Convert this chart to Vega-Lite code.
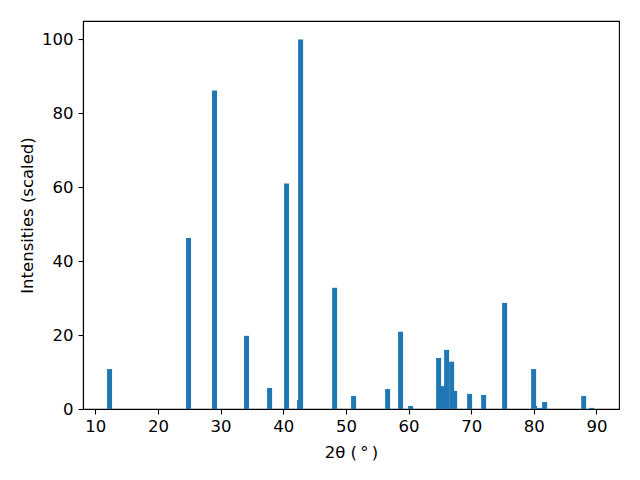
{
  "$schema": "https://vega.github.io/schema/vega-lite/v6.json",
  "width": 536,
  "height": 388,
  "autosize": {"type": "none"},
  "padding": {"left": 83, "top": 21, "right": 21, "bottom": 71},
  "background": "white",
  "config": {
    "view": {"stroke": "black", "strokeWidth": 1.1},
    "font": "DejaVu Sans",
    "axis": {
      "grid": false,
      "domainColor": "black",
      "domainWidth": 1.1,
      "tickColor": "black",
      "tickWidth": 1.1,
      "tickSize": 5,
      "labelFont": "DejaVu Sans",
      "labelFontSize": 16.5,
      "labelColor": "black",
      "titleFont": "DejaVu Sans",
      "titleFontSize": 16.5,
      "titleFontWeight": "normal",
      "titleColor": "black"
    }
  },
  "data": {
    "values": [
      {"two_theta": 12.27, "intensity": 10.8},
      {"two_theta": 24.88, "intensity": 46.3},
      {"two_theta": 29.03, "intensity": 86.2},
      {"two_theta": 34.14, "intensity": 19.8},
      {"two_theta": 37.82, "intensity": 5.7},
      {"two_theta": 40.53, "intensity": 61.0},
      {"two_theta": 42.61, "intensity": 2.4},
      {"two_theta": 42.77, "intensity": 100.0},
      {"two_theta": 48.2, "intensity": 32.8},
      {"two_theta": 51.23, "intensity": 3.5},
      {"two_theta": 56.66, "intensity": 5.4},
      {"two_theta": 58.73, "intensity": 20.9},
      {"two_theta": 60.33, "intensity": 0.8},
      {"two_theta": 64.8, "intensity": 13.8},
      {"two_theta": 65.55, "intensity": 6.2},
      {"two_theta": 66.08, "intensity": 16.0},
      {"two_theta": 66.88, "intensity": 12.8},
      {"two_theta": 67.36, "intensity": 4.9},
      {"two_theta": 69.75, "intensity": 4.1},
      {"two_theta": 71.99, "intensity": 3.8},
      {"two_theta": 75.34, "intensity": 28.7},
      {"two_theta": 79.97, "intensity": 10.8},
      {"two_theta": 80.13, "intensity": 0.8},
      {"two_theta": 80.93, "intensity": 0.3},
      {"two_theta": 81.73, "intensity": 1.9},
      {"two_theta": 87.96, "intensity": 3.5},
      {"two_theta": 89.23, "intensity": 0.3}
    ]
  },
  "mark": {"type": "bar", "color": "#1f77b4", "size": 5, "clip": true},
  "encoding": {
    "x": {
      "field": "two_theta",
      "type": "quantitative",
      "scale": {"domain": [8.03, 93.6], "nice": false, "zero": false, "padding": 0},
      "axis": {
        "values": [10, 20, 30, 40, 50, 60, 70, 80, 90],
        "labelPadding": 4,
        "labelFlush": false,
        "title": "2θ (\u2009°\u2009)",
        "titleY": 48,
        "titleBaseline": "alphabetic"
      }
    },
    "y": {
      "field": "intensity",
      "type": "quantitative",
      "scale": {"domain": [0, 105], "nice": false},
      "axis": {
        "values": [0, 20, 40, 60, 80, 100],
        "labelPadding": 5,
        "title": "Intensities (scaled)",
        "titleX": -56,
        "titleY": 194,
        "titleBaseline": "middle"
      }
    }
  }
}
